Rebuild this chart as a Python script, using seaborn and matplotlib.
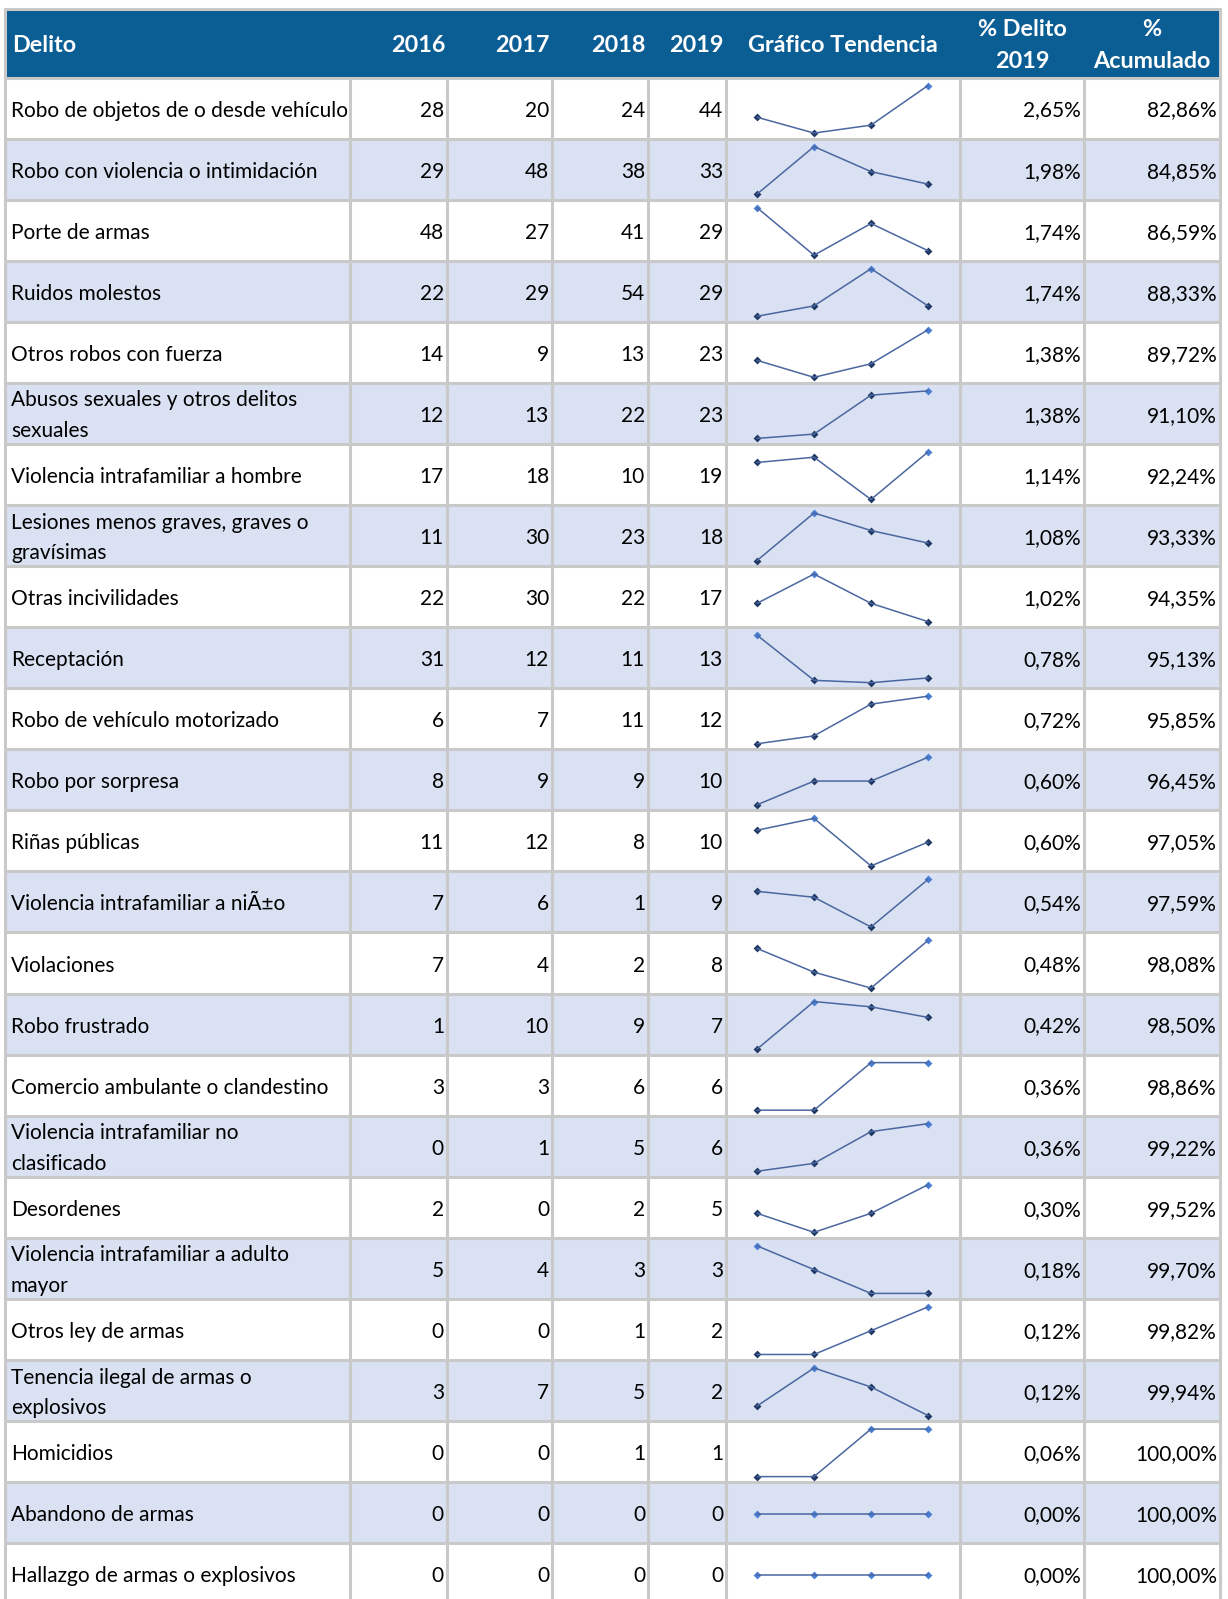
import matplotlib
matplotlib.use("Agg")
import matplotlib.pyplot as plt
from matplotlib.patches import Rectangle
import seaborn as sns
import pandas as pd

sns.set_theme(style="white")
plt.rcParams['font.family'] = ['Lato', 'DejaVu Sans']

# ---------------- data ----------------
delitos = [
    "Robo de objetos de o desde vehículo",
    "Robo con violencia o intimidación",
    "Porte de armas",
    "Ruidos molestos",
    "Otros robos con fuerza",
    "Abusos sexuales y otros delitos\nsexuales",
    "Violencia intrafamiliar a hombre",
    "Lesiones menos graves, graves o\ngravísimas",
    "Otras incivilidades",
    "Receptación",
    "Robo de vehículo motorizado",
    "Robo por sorpresa",
    "Riñas públicas",
    "Violencia intrafamiliar a niÃ±o",
    "Violaciones",
    "Robo frustrado",
    "Comercio ambulante o clandestino",
    "Violencia intrafamiliar no\nclasificado",
    "Desordenes",
    "Violencia intrafamiliar a adulto\nmayor",
    "Otros ley de armas",
    "Tenencia ilegal de armas o\nexplosivos",
    "Homicidios",
    "Abandono de armas",
    "Hallazgo de armas o explosivos",
]
years = ["2016", "2017", "2018", "2019"]
v2016 = [28, 29, 48, 22, 14, 12, 17, 11, 22, 31, 6, 8, 11, 7, 7, 1, 3, 0, 2, 5, 0, 3, 0, 0, 0]
v2017 = [20, 48, 27, 29, 9, 13, 18, 30, 30, 12, 7, 9, 12, 6, 4, 10, 3, 1, 0, 4, 0, 7, 0, 0, 0]
v2018 = [24, 38, 41, 54, 13, 22, 10, 23, 22, 11, 11, 9, 8, 1, 2, 9, 6, 5, 2, 3, 1, 5, 1, 0, 0]
v2019 = [44, 33, 29, 29, 23, 23, 19, 18, 17, 13, 12, 10, 10, 9, 8, 7, 6, 6, 5, 3, 2, 2, 1, 0, 0]
pct_2019 = [2.65, 1.98, 1.74, 1.74, 1.38, 1.38, 1.14, 1.08, 1.02, 0.78, 0.72, 0.60, 0.60,
            0.54, 0.48, 0.42, 0.36, 0.36, 0.30, 0.18, 0.12, 0.12, 0.06, 0.00, 0.00]
pct_acum = [82.86, 84.85, 86.59, 88.33, 89.72, 91.10, 92.24, 93.33, 94.35, 95.13, 95.85,
            96.45, 97.05, 97.59, 98.08, 98.50, 98.86, 99.22, 99.52, 99.70, 99.82, 99.94,
            100.00, 100.00, 100.00]
headers = ["Delito", "2016", "2017", "2018", "2019", "Gráfico Tendencia",
           "% Delito\n2019", "%\nAcumulado"]

# ---------------- layout ----------------
W, H = 1228, 1599
fig = plt.figure(figsize=(W / 100, H / 100), dpi=100)
ax = fig.add_axes([0, 0, 1, 1])
ax.set_xlim(0, W)
ax.set_ylim(H, 0)
ax.axis('off')

col_edges = [5, 350, 447, 552, 648, 726, 960, 1084, 1220]
head_top, head_bot = 8.5, 77.5
row_h = 61.07
n = len(delitos)
row_tops = [head_bot + i * row_h for i in range(n)]

HEAD_BLUE = "#0b5e94"
ALT = "#d9e1f2"
GRID = "#c9c9c9"
LW = 2.2
FS = 15
HFS = 16.8

# header
ax.add_patch(Rectangle((col_edges[0], head_top), col_edges[-1] - col_edges[0],
                       head_bot - head_top, fc=HEAD_BLUE, ec="none", zorder=1))
# rows backgrounds
for i, top in enumerate(row_tops):
    fc = "white" if i % 2 == 0 else ALT
    ax.add_patch(Rectangle((col_edges[0], top), col_edges[-1] - col_edges[0], row_h,
                           fc=fc, ec="none", zorder=1))

# grid lines
ax.plot([col_edges[0], col_edges[-1]], [head_top, head_top], color=GRID, lw=LW, zorder=3)
for top in row_tops:
    ax.plot([col_edges[0], col_edges[-1]], [top, top], color=GRID, lw=LW, zorder=3)
for j, x in enumerate(col_edges):
    y0 = head_top if j in (0, len(col_edges) - 1) else head_bot
    ax.plot([x, x], [y0, H + 5], color=GRID, lw=LW, zorder=3)

# header texts
hy = (head_top + head_bot) / 2 + 2.5
ax.text(col_edges[0] + 7, hy, headers[0], color="white", fontsize=HFS, fontweight="bold",
        ha="left", va="center", zorder=4)
for k in range(4):
    ax.text(col_edges[k + 2] - 2, hy, headers[k + 1], color="white", fontsize=HFS,
            fontweight="bold", ha="right", va="center", zorder=4)
for k, h in zip([5, 6, 7], headers[5:]):
    cx = (col_edges[k] + col_edges[k + 1]) / 2
    ax.text(cx, hy, h, color="white", fontsize=HFS, fontweight="bold", ha="center",
            va="center", multialignment="center", linespacing=1.62, zorder=4)

def fmt_pct(v):
    return f"{v:.2f}%".replace(".", ",")

vals = [v2016, v2017, v2018, v2019]
for i in range(n):
    cy = row_tops[i] + row_h / 2 + 2.5
    ax.text(col_edges[0] + 6, cy, delitos[i], fontsize=FS, color="black", ha="left",
            va="center", linespacing=1.68, zorder=4)
    for k in range(4):
        ax.text(col_edges[k + 2] - 3, cy, str(vals[k][i]), fontsize=FS, color="black",
                ha="right", va="center", zorder=4)
    ax.text(col_edges[7] - 3, cy, fmt_pct(pct_2019[i]), fontsize=FS, color="black",
            ha="right", va="center", zorder=4)
    ax.text(col_edges[8] - 3, cy, fmt_pct(pct_acum[i]), fontsize=FS, color="black",
            ha="right", va="center", zorder=4)

# sparklines
LINE = "#4b67a0"
DARK = "#1f3864"
LIGHT = "#4a7fd6"
sx0, sx1 = 757, 928
pad_top, pad_bot = 8, 5.5
for i in range(n):
    series = [v2016[i], v2017[i], v2018[i], v2019[i]]
    d = pd.DataFrame({"x": [0, 1, 2, 3], "y": series})
    mx = max(series)
    d["hi"] = d["y"] == mx
    top = row_tops[i] + pad_top
    bot = row_tops[i] + row_h - pad_bot
    sax = fig.add_axes([sx0 / W, 1 - bot / H, (sx1 - sx0) / W, (bot - top) / H])
    sax.patch.set_alpha(0)
    sns.lineplot(data=d, x="x", y="y", ax=sax, color=LINE, lw=1.1)
    sns.scatterplot(data=d[~d["hi"]], x="x", y="y", ax=sax, color=DARK, s=16,
                    marker="D", linewidth=0)
    sns.scatterplot(data=d[d["hi"]], x="x", y="y", ax=sax, color=LIGHT, s=16,
                    marker="D", linewidth=0)
    lo = min(series)
    if lo == mx:
        sax.set_ylim(lo - 1, mx + 1)
    else:
        sax.set_ylim(lo, mx)
    sax.set_xlim(0, 3)
    for c in sax.collections + sax.lines:
        c.set_clip_on(False)
    sax.axis("off")

fig.savefig("out.png", dpi=100)
